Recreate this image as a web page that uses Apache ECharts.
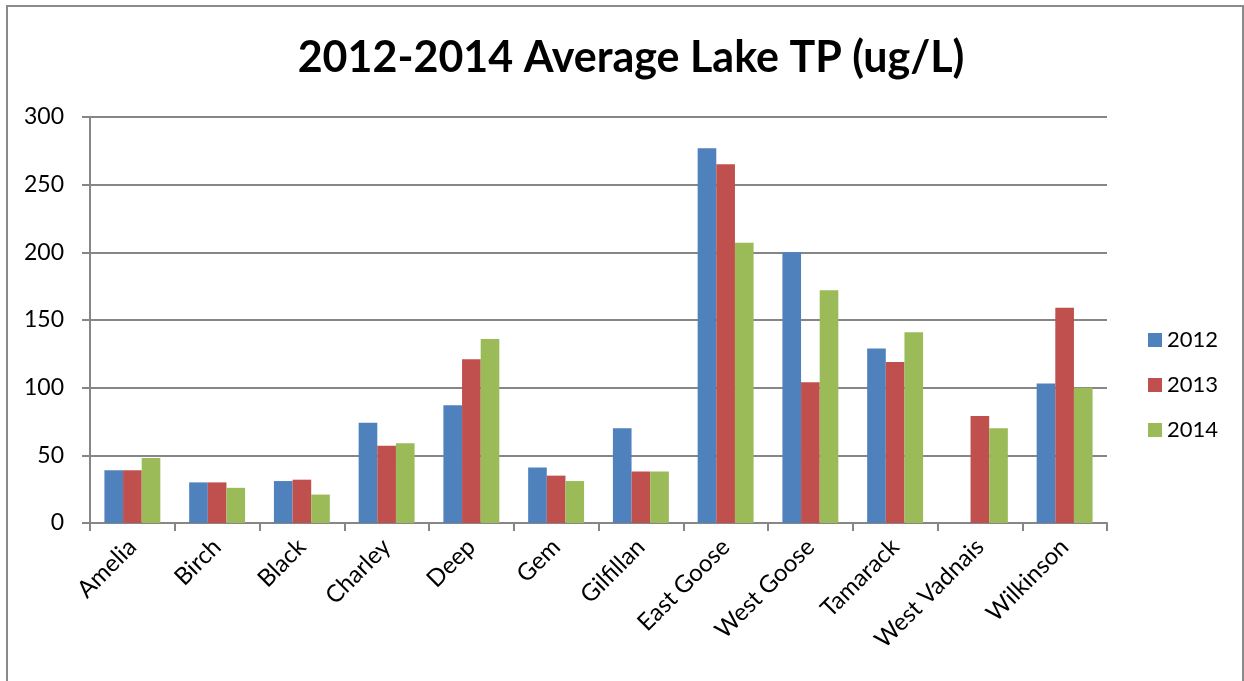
<!DOCTYPE html>
<html>
<head>
<meta charset="utf-8">
<script src="https://cdn.jsdelivr.net/npm/echarts@6/dist/echarts.min.js"></script>
<style>
  html, body { margin: 0; padding: 0; background: #fff; }
  #chart { width: 1244px; height: 681px; }
</style>
</head>
<body>
<div id="chart"></div>
<script>
// 数据
const lakes = ["Amelia", "Birch", "Black", "Charley", "Deep", "Gem", "Gilfillan", "East Goose", "West Goose", "Tamarack", "West Vadnais", "Wilkinson"]
const years = ["2012", "2013", "2014"]
const tp2012 = [39, 30, 31, 74, 87, 41, 70, 277, 200, 129, null, 103]
const tp2013 = [39, 30, 32, 57, 121, 35, 38, 265, 104, 119, 79, 159]
const tp2014 = [48, 26, 21, 59, 136, 31, 38, 207, 172, 141, 70, 100]
const yTicks = [0, 50, 100, 150, 200, 250, 300]

const colors = ["#4F81BD", "#C0504D", "#9BBB59"]
const font = "Lato, 'Noto Sans', sans-serif"

let myChart = echarts.init(document.getElementById("chart"))

function bar(name, data, i) {
  return {
    name: name,
    type: "bar",
    data: data,
    barGap: "0%",
    barCategoryGap: "34%",
    itemStyle: { color: colors[i] },
  }
}

myChart.setOption({
  animation: false,
  title: {
    text: "2012-2014 Average Lake TP (ug/L)",
    left: 626,
    textAlign: "center",
    top: 32,
    textStyle: { fontFamily: font, fontWeight: "bold", fontSize: 43, color: "#000" },
  },
  // 外框
  graphic: [{
    type: "rect",
    shape: { x: 7, y: 6, width: 1236, height: 700 },
    style: { fill: "none", stroke: "#8a8a8a", lineWidth: 2 },
    silent: true,
  }],
  legend: {
    orient: "vertical",
    left: 1148,
    top: 329,
    padding: 0,
    itemWidth: 14,
    itemHeight: 14,
    itemGap: 23,
    icon: "rect",
    textStyle: { fontFamily: font, fontSize: 22, color: "#000" },
    data: years,
  },
  grid: {
    left: 90,
    right: 137,
    top: 117,
    bottom: 158,
  },
  xAxis: {
    type: "category",
    data: lakes,
    axisLine: { lineStyle: { color: "#868686", width: 2 } },
    axisTick: { show: true, length: 8, alignWithLabel: false, lineStyle: { color: "#868686", width: 2 } },
    axisLabel: {
      rotate: 45,
      interval: 0,
      margin: 20,
      fontFamily: font,
      fontSize: 24,
      color: "#000",
    },
  },
  yAxis: {
    type: "value",
    min: yTicks[0],
    max: yTicks[yTicks.length - 1],
    interval: 50,
    axisLine: { show: true, lineStyle: { color: "#868686", width: 2 } },
    axisTick: { show: true, length: 8, lineStyle: { color: "#868686", width: 2 } },
    splitLine: { lineStyle: { color: "#868686", width: 2 } },
    axisLabel: {
      margin: 26,
      fontFamily: font,
      fontSize: 23,
      color: "#000",
    },
  },
  series: [
    bar(years[0], tp2012, 0),
    bar(years[1], tp2013, 1),
    bar(years[2], tp2014, 2),
  ],
})
</script>
</body>
</html>
